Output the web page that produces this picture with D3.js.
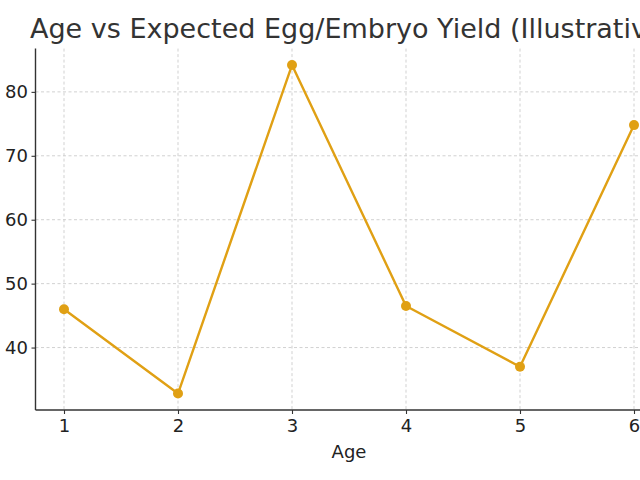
<!DOCTYPE html>
<html><head><meta charset="utf-8">
<script src="https://cdn.jsdelivr.net/npm/d3@7"></script>
<style>body{margin:0;background:#fff;overflow:hidden}svg{display:block}</style>
</head><body>
<svg id="c" width="640" height="480"></svg>
<script>
const ages = [1, 2, 3, 4, 5, 6];
const yieldValues = [46.0, 32.8, 84.2, 46.5, 37.0, 74.8];
const yTicks = [40, 50, 60, 70, 80];
const title = "Age vs Expected Egg/Embryo Yield (Illustrative)";
const xLabel = "Age";

(function () {
const svg = d3.select("#c");
const mLeft = 35.5, mRight = 662.5, mTop = 48.6, mBottom = 410;
const x = d3.scaleLinear().domain([0.75, 6.25]).range([mLeft, mRight]);
const yMin = d3.min(yieldValues), yMax = d3.max(yieldValues), pad = (yMax - yMin) * 0.05;
const y = d3.scaleLinear().domain([yMin - pad, yMax + pad]).range([mBottom, mTop]);

const font = "DejaVu Sans, sans-serif";
const grid = svg.append("g").attr("stroke", "#cccccc").attr("stroke-width", 0.9).attr("stroke-dasharray", "3,2.5");
grid.selectAll("line.v").data(ages).join("line").attr("class", "v").attr("x1", d => x(d)).attr("x2", d => x(d)).attr("y1", mTop).attr("y2", mBottom);
grid.selectAll("line.h").data(yTicks).join("line").attr("class", "h").attr("y1", d => y(d)).attr("y2", d => y(d)).attr("x1", mLeft).attr("x2", mRight);

const line = d3.line().x((d, i) => x(ages[i])).y(d => y(d));
svg.append("path").datum(yieldValues).attr("d", line).attr("fill", "none").attr("stroke", "#e0a014").attr("stroke-width", 2.4).attr("stroke-linejoin", "round");
svg.selectAll("circle").data(yieldValues).join("circle").attr("cx", (d, i) => x(ages[i])).attr("cy", d => y(d)).attr("r", 5).attr("fill", "#e0a014");

const xa = svg.append("g").attr("transform", `translate(0,${mBottom})`).call(d3.axisBottom(x).tickValues(ages).tickSize(4).tickPadding(5).tickFormat(d3.format("d")));
const ya = svg.append("g").attr("transform", `translate(${mLeft},0)`).call(d3.axisLeft(y).tickValues(yTicks).tickSize(4).tickPadding(3.5));
[xa, ya].forEach(a => {
  a.select(".domain").attr("stroke", "#333").attr("stroke-width", 1.4);
  a.selectAll(".tick line").attr("stroke", "#333").attr("stroke-width", 1.1);
  a.selectAll(".tick text").attr("fill", "#222").style("font-family", font).style("font-size", "18px");
});
xa.select(".domain").attr("d", `M${mLeft},0H${mRight}`);
ya.select(".domain").attr("d", `M0,${mTop}V${mBottom}`);

svg.append("text").attr("x", (mLeft + mRight) / 2).attr("y", 458).attr("text-anchor", "middle").style("font-family", font).style("font-size", "18px").attr("fill", "#222").text(xLabel);
svg.append("text").attr("x", 30).attr("y", 38).style("font-family", font).style("font-size", "27px").attr("fill", "#333").text(title);
})();
</script>
</body></html>
